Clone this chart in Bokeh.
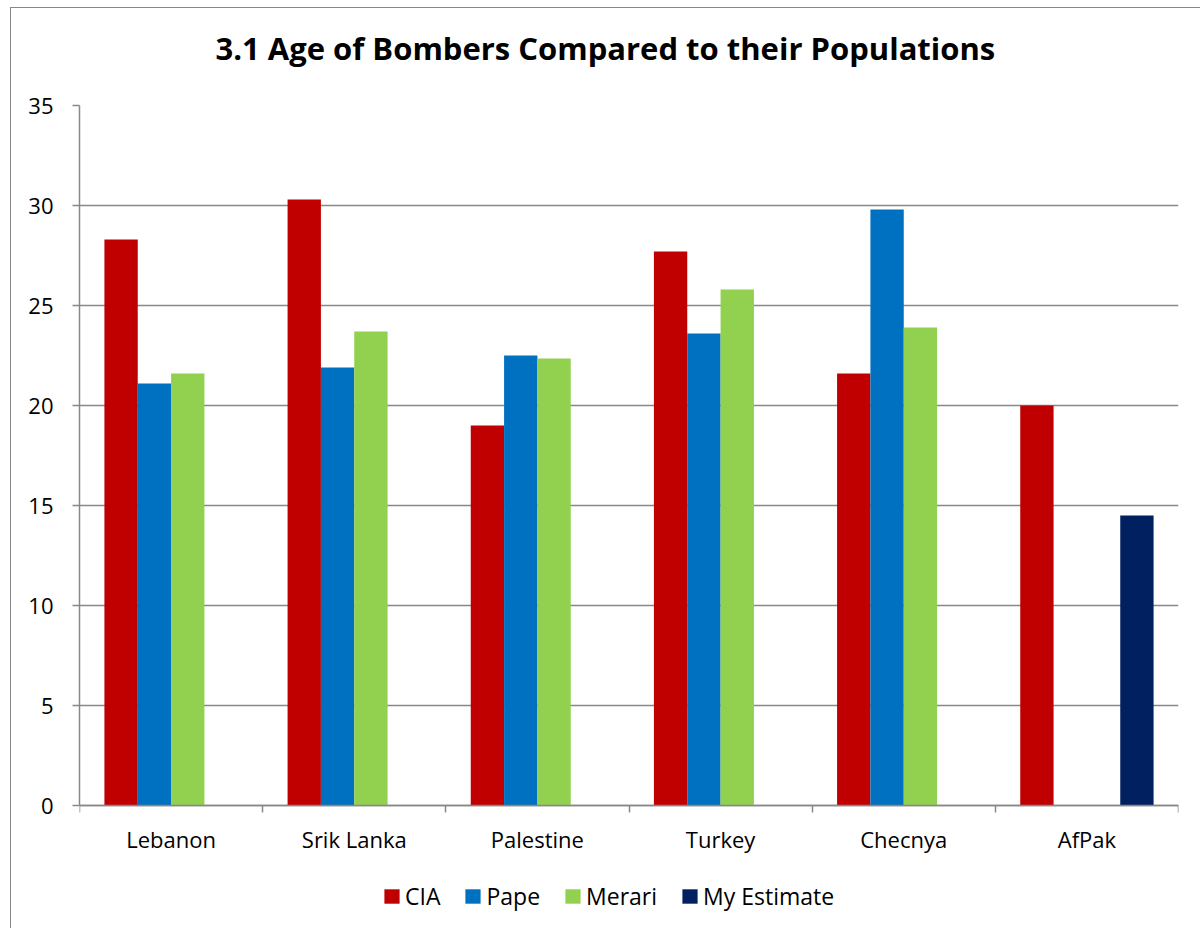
from bokeh.plotting import figure
from bokeh.models import (FactorRange, Range1d, LinearAxis, FixedTicker, ColumnDataSource,
                          Legend, LegendItem, Title)
from bokeh.transform import dodge
from bokeh.embed import file_html
from bokeh.resources import INLINE

# Median age of suicide bombers vs. population, by source
countries = ["Lebanon", "Srik Lanka", "Palestine", "Turkey", "Checnya", "AfPak"]
series = ["CIA", "Pape", "Merari", "My Estimate"]
cia = [28.3, 30.3, 19.0, 27.7, 21.6, 20.0]
pape = [21.1, 21.9, 22.5, 23.6, 29.8, None]
merari = [21.6, 23.7, 22.35, 25.8, 23.9, None]
my_estimate = [None, None, None, None, None, 14.5]
colors = ["#C00000", "#0070C0", "#92D050", "#002060"]
y_ticks = [0, 5, 10, 15, 20, 25, 30, 35]

FONT = "Open Sans"
GRID = "#888888"

# the frame runs down to the bottom edge so the legend can sit beneath the axis;
# the value axis keeps 0..35 over 700 px
p = figure(width=1190, height=921,
           x_range=FactorRange(factors=countries, range_padding=0),
           y_range=Range1d(35 - 824 / 20, 35),
           x_axis_type=None,
           output_backend="svg", toolbar_location=None,
           min_border_left=68, min_border_right=23,
           min_border_top=97, min_border_bottom=0,
           margin=(7, 0, 0, 10),
           styles={"border-left": f"1.5px solid {GRID}", "border-top": f"1.5px solid {GRID}"})
p.outline_line_color = None
p.background_fill_color = "white"
p.border_fill_color = "white"

# y axis and horizontal gridlines
yaxis = p.yaxis[0]
yaxis.ticker = FixedTicker(ticks=y_ticks)
yaxis.bounds = (0, 35)
yaxis.axis_line_color = GRID
yaxis.axis_line_width = 1.5
yaxis.major_tick_line_color = GRID
yaxis.major_tick_line_width = 1.5
yaxis.major_tick_out = 7
yaxis.major_tick_in = 0
yaxis.minor_tick_line_color = None
yaxis.major_label_standoff = 19
yaxis.major_label_text_font = FONT
yaxis.major_label_text_font_size = "22px"
yaxis.major_label_text_color = "#000000"
p.ygrid.ticker = FixedTicker(ticks=y_ticks)
p.ygrid.grid_line_color = GRID
p.ygrid.grid_line_width = 1.5

# x axis at y = 0: labels at category centres, tick marks at category boundaries
n = len(countries)
xaxis = LinearAxis(ticker=FixedTicker(ticks=[i + 0.5 for i in range(n)],
                                      minor_ticks=list(range(n + 1))),
                   fixed_location=0)
xaxis.major_label_overrides = {i + 0.5: c for i, c in enumerate(countries)}
xaxis.axis_line_color = GRID
xaxis.axis_line_width = 1.5
xaxis.major_tick_line_color = None
xaxis.major_tick_out = 0
xaxis.major_tick_in = 0
xaxis.minor_tick_line_color = GRID
xaxis.minor_tick_line_width = 1.5
xaxis.minor_tick_out = 7
xaxis.minor_tick_in = 0
xaxis.major_label_standoff = 11
xaxis.major_label_text_font = FONT
xaxis.major_label_text_font_size = "22px"
xaxis.major_label_text_color = "#000000"
p.add_layout(xaxis, "below")

# grouped bars
bar_w = 0.182
items = []
for i, (name, vals, col) in enumerate(zip(series, [cia, pape, merari, my_estimate], colors)):
    cats = [c for c, v in zip(countries, vals) if v is not None]
    tops = [v for v in vals if v is not None]
    src = ColumnDataSource(dict(cat=cats, top=tops))
    r = p.vbar(x=dodge("cat", (i - 1.5) * bar_w, range=p.x_range), top="top", bottom=0,
               width=bar_w, source=src, fill_color=col, line_color=None)
    items.append(LegendItem(label=name, renderers=[r]))

legend = Legend(items=items, orientation="horizontal", location=(303, 17),
                label_text_font=FONT, label_text_font_size="23px",
                label_text_color="#000000",
                glyph_width=19, glyph_height=18, label_standoff=4, spacing=23,
                border_line_color=None, background_fill_alpha=0,
                padding=0, margin=0)
p.add_layout(legend)

# spacer between the plot area and the heading, then the heading itself
p.add_layout(Title(text="\u00a0", text_font=FONT, text_font_size="22px", standoff=0), "above")
p.add_layout(Title(text="3.1 Age of Bombers Compared to their Populations",
                   align="left", offset=136, text_font=FONT, text_font_size="31px",
                   text_font_style="bold", text_color="#000000", standoff=9), "above")

open("out.html", "w").write(file_html(p, INLINE))
